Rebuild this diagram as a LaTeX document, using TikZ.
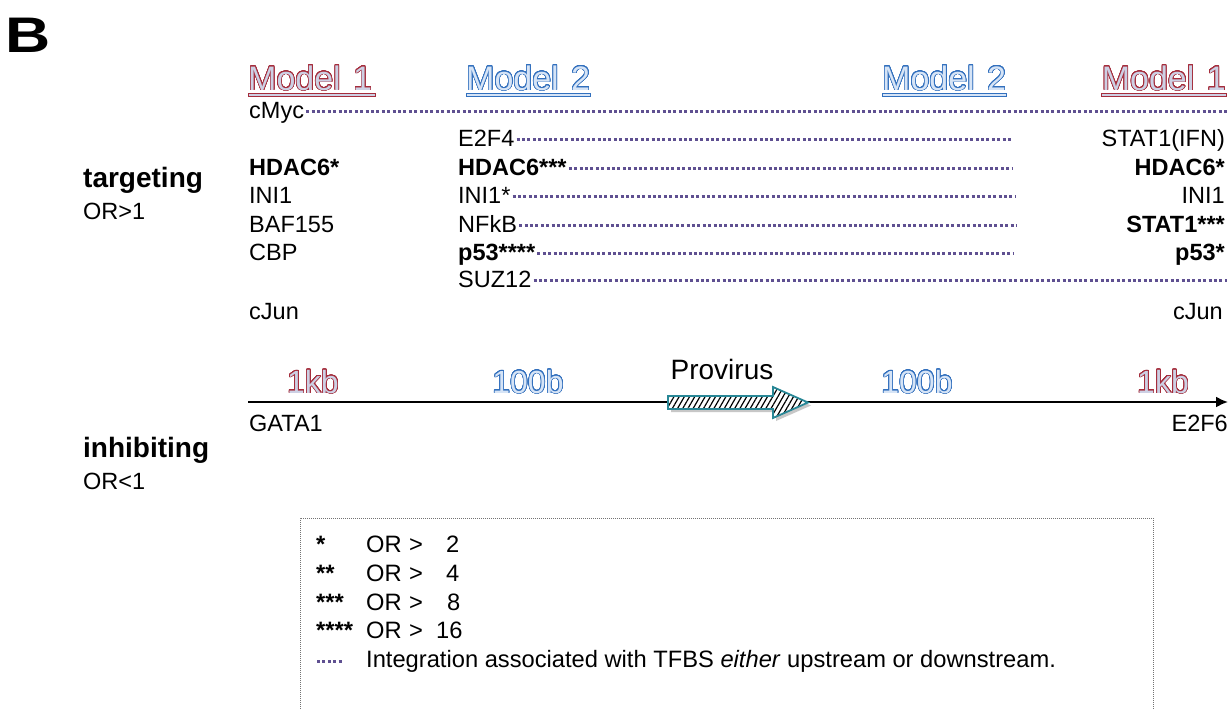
\documentclass[tikz,border=0pt]{standalone}
\usepackage{fontspec}
\setmainfont{Liberation Sans}
\newfontfamily\panelfont[FakeStretch=1.25]{Liberation Sans}
\usepackage[copies]{contour}
\usetikzlibrary{arrows.meta,patterns.meta,calc}
\definecolor{mred}{RGB}{165,45,60}
\definecolor{mredfill}{RGB}{205,208,228}
\definecolor{mblue}{RGB}{50,112,190}
\definecolor{mbluefill}{RGB}{214,228,246}
\definecolor{dotpurple}{RGB}{95,80,145}
\definecolor{provteal}{RGB}{40,135,150}
\contourlength{0.7pt}
\contournumber{32}
\newcommand\redtxt[1]{\contour{mred}{\textcolor{mredfill}{#1}}}
\newcommand\bluetxt[1]{\contour{mblue}{\textcolor{mbluefill}{#1}}}
\tikzset{
  lab/.style={inner sep=0pt, font=\fontsize{23.5}{27}\selectfont},
  blab/.style={inner sep=0pt, font=\fontsize{23.5}{27}\selectfont\bfseries},
  leglab/.style={inner sep=0pt, anchor=base west, font=\fontsize{23.7}{27}\selectfont},
  legstar/.style={leglab, font=\fontsize{23.7}{27}\selectfont\bfseries},
  lw/.style={lab, anchor=base west},
  le/.style={lab, anchor=base east},
  blw/.style={blab, anchor=base west},
  ble/.style={blab, anchor=base east},
  dotline/.style={dotpurple, line width=3pt, dash pattern=on 3pt off 2.4pt},
  modellab/.style={inner sep=0pt, anchor=base west, font=\fontsize{34}{40}\selectfont},
  distlab/.style={inner sep=0pt, anchor=base, font=\fontsize{32}{38}\selectfont},
  sidelab/.style={inner sep=0pt, anchor=base west, font=\fontsize{28}{32}\selectfont\bfseries},
  redbar/.style={fill=mredfill, draw=mred, line width=0.9pt},
  bluebar/.style={fill=mbluefill, draw=mblue, line width=0.9pt},
}
\begin{document}
\begin{tikzpicture}[x=1pt,y=-1pt]
\useasboundingbox (0,0) rectangle (1232,709);
\fill[white] (0,0) rectangle (1232,709);

% panel letter
\node[inner sep=0pt, anchor=base west, font=\fontsize{50}{54}\panelfont\bfseries] (panel) at (5,53) {B};

% model headers
\node[modellab] (m1l) at (248,90) {\redtxt{Model\hspace{3pt} 1}};
\node[modellab] (m2l) at (466,90) {\bluetxt{Model\hspace{3pt} 2}};
\node[modellab] (m2r) at (882,90) {\bluetxt{Model\hspace{3pt} 2}};
\node[modellab,anchor=base east] (m1r) at (1226,90) {\redtxt{Model\hspace{3pt} 1}};
\fill[redbar] ($(m1l.base west)+(0,3)$) rectangle ($(m1l.base east)+(3,6)$);
\fill[bluebar] ($(m2l.base west)+(0,3)$) rectangle ($(m2l.base east)+(0,6)$);
\fill[bluebar] ($(m2r.base west)+(0,3)$) rectangle ($(m2r.base east)+(0,6)$);
\fill[redbar] ($(m1r.base west)+(0,3)$) rectangle ($(m1r.base east)+(0,6)$);

% side labels
\node[sidelab] (tgt) at (83,187) {targeting};
\node[lw] (tgtor) at (83,219) {OR>1};
\node[sidelab] (inh) at (83,457) {inhibiting};
\node[lw] (inhor) at (83,489) {OR<1};

% left column
\node[lw] (cmyc) at (249,118) {cMyc};
\node[blw] (hdacA) at (249,175) {HDAC6*};
\node[lw] (iniA) at (249,203) {INI1};
\node[lw] (baf) at (249,232) {BAF155};
\node[lw] (cbp) at (249,260) {CBP};
\node[lw] (cjunL) at (249,319) {cJun};

% middle column
\node[lw] (e2f4) at (458,146) {E2F4};
\node[blw] (hdacB) at (458,175) {HDAC6***};
\node[lw] (iniB) at (458,203) {INI1*};
\node[lw] (nfkb) at (458,232) {NFkB};
\node[blw] (p53B) at (458,260) {p53****};
\node[lw] (suz) at (458,287) {SUZ12};

% right column
\node[le] (stat1ifn) at (1225,146) {STAT1(IFN)};
\node[ble] (hdacC) at (1225,175) {HDAC6*};
\node[le] (iniC) at (1225,203) {INI1};
\node[ble] (stat1) at (1225,232) {STAT1***};
\node[ble] (p53C) at (1225,260) {p53*};
\node[le] (cjunR) at (1223,319) {cJun};

% dotted line ends
\coordinate (cmycE) at (1227,111);
\coordinate (e2f4E) at (1013,139);
\coordinate (hdacE) at (1013,168);
\coordinate (iniE) at (1016,196);
\coordinate (nfkbE) at (1016,225);
\coordinate (p53E) at (1013,253);
\coordinate (suzE) at (1227,280);

\draw[dotline] ([shift={(2,-7)}]cmyc.base east) -- (cmycE);
\draw[dotline] ([shift={(2,-7)}]e2f4.base east) -- (e2f4E);
\draw[dotline] ([shift={(2,-7)}]hdacB.base east) -- (hdacE);
\draw[dotline] ([shift={(2,-7)}]iniB.base east) -- (iniE);
\draw[dotline] ([shift={(2,-7)}]nfkb.base east) -- (nfkbE);
\draw[dotline] ([shift={(2,-7)}]p53B.base east) -- (p53E);
\draw[dotline] ([shift={(2,-7)}]suz.base east) -- (suzE);

% genome axis
\coordinate (axS) at (248,402);
\coordinate (axE) at (1228,402);
\draw[line width=2pt, -{Latex[length=12pt,width=11pt]}] (axS) -- (axE);

\node[distlab] (kbL) at (313,393) {\redtxt{1kb}};
\node[distlab] (bL) at (528,393) {\bluetxt{100b}};
\node[distlab] (bR) at (917,393) {\bluetxt{100b}};
\node[distlab] (kbR) at (1163,393) {\redtxt{1kb}};
\node[inner sep=0pt, anchor=base, font=\fontsize{28}{32}\selectfont] (prov) at (722,379) {Provirus};

% provirus arrow
\fill[black!22] (671,399) -- (776,399) -- (776,390) -- (811,405.5) -- (776,421) -- (776,412) -- (671,412) -- cycle;
\fill[white] (668,396) -- (773,396) -- (773,387) -- (808,402.5) -- (773,418) -- (773,409) -- (668,409) -- cycle;
\fill[pattern={Lines[angle=60,distance=4.5pt,line width=1.2pt]}, pattern color=black] (668,396) -- (773,396) -- (773,387) -- (808,402.5) -- (773,418) -- (773,409) -- (668,409) -- cycle;
\draw[provteal, line width=1.8pt, line join=miter] (668,396) -- (773,396) -- (773,387) -- (808,402.5) -- (773,418) -- (773,409) -- (668,409) -- cycle;

\node[lw] (gata) at (249,431) {GATA1};
\node[le] (e2f6) at (1228,431) {E2F6};

% legend
\draw[black!55, line width=0.9pt, dash pattern=on 1pt off 1pt] (300,709) -- (300,518) -- (1153,518) -- (1153,709);
\node[legstar] (s1) at (316,552) {*};
\node[legstar] (s2) at (316,581) {**};
\node[legstar] (s3) at (316,610) {***};
\node[legstar] (s4) at (316,638) {****};
\node[leglab] (o1) at (366,552) {OR};
\node[leglab] (o2) at (366,581) {OR};
\node[leglab] (o3) at (366,610) {OR};
\node[leglab] (o4) at (366,638) {OR};
\node[leglab] (g1) at (409,552) {>};
\node[leglab] (g2) at (409,581) {>};
\node[leglab] (g3) at (409,610) {>};
\node[leglab] (g4) at (409,638) {>};
\node[leglab] (n1) at (446,552) {2};
\node[leglab] (n2) at (446,581) {4};
\node[leglab] (n3) at (447,610) {8};
\node[leglab] (n4) at (436,638) {16};
\coordinate (legdS) at (317,661);
\coordinate (legdE) at (342,661);
\draw[dotline] (legdS) -- (legdE);
\node[leglab] (legtxt) at (366,667) {Integration associated with TFBS \textit{either} upstream or downstream.};
\end{tikzpicture}
\end{document}
